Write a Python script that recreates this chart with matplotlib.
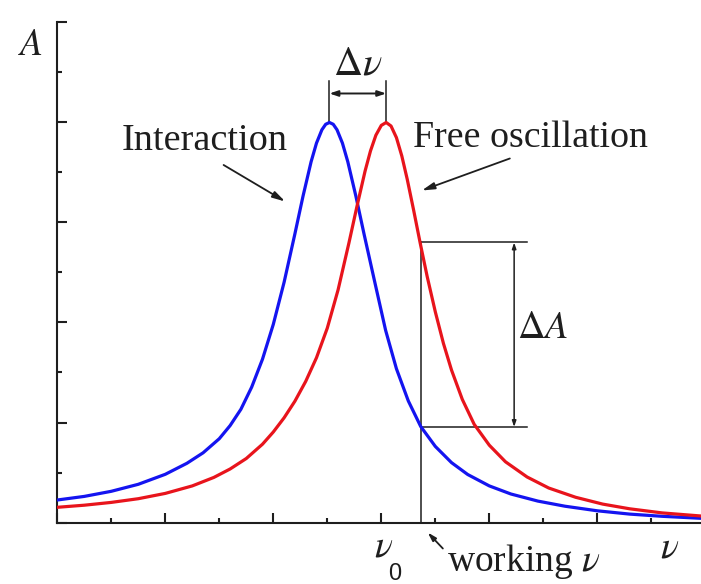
import matplotlib
matplotlib.use("Agg")
import matplotlib.pyplot as plt
from matplotlib.ticker import MultipleLocator

plt.rcParams['font.family'] = ['Liberation Serif', 'DejaVu Serif']
plt.rcParams['mathtext.fontset'] = 'stix'

# Resonance curves: frequency (arbitrary units) vs amplitude
nu_interaction = [0.00, 0.50, 1.00, 1.50, 2.00, 2.40, 2.70, 3.00, 3.20, 3.40,
                  3.60, 3.80, 4.00, 4.20, 4.40, 4.55, 4.70, 4.80, 4.90, 4.97,
                  5.04, 5.11, 5.18, 5.28, 5.38, 5.53, 5.68, 5.88, 6.08, 6.28,
                  6.50, 6.73, 7.00, 7.30, 7.60, 8.00, 8.40, 8.90, 9.40, 10.00,
                  10.60, 11.20, 11.92]
amp_interaction = [0.225, 0.261, 0.312, 0.382, 0.482, 0.592, 0.697, 0.838, 0.969, 1.132,
                   1.354, 1.633, 1.981, 2.402, 2.886, 3.262, 3.607, 3.794, 3.927, 3.982,
                   4.000, 3.982, 3.927, 3.794, 3.607, 3.262, 2.886, 2.402, 1.922, 1.538,
                   1.216, 0.960, 0.761, 0.599, 0.480, 0.366, 0.285, 0.214, 0.163, 0.117,
                   0.084, 0.062, 0.042]

nu_free = [0.00, 0.50, 1.00, 1.50, 2.00, 2.50, 2.90, 3.20, 3.50, 3.80,
           4.00, 4.20, 4.40, 4.60, 4.80, 5.00, 5.20, 5.40, 5.55, 5.70,
           5.80, 5.90, 6.00, 6.09, 6.18, 6.28, 6.38, 6.48, 6.60, 6.72,
           6.85, 7.00, 7.15, 7.30, 7.50, 7.72, 8.00, 8.30, 8.70, 9.10,
           9.60, 10.10, 10.60, 11.20, 11.92]
amp_free = [0.152, 0.173, 0.201, 0.238, 0.291, 0.366, 0.451, 0.535, 0.640, 0.783,
            0.905, 1.047, 1.213, 1.411, 1.648, 1.944, 2.327, 2.794, 3.163, 3.515,
            3.716, 3.873, 3.971, 4.000, 3.965, 3.849, 3.665, 3.433, 3.120, 2.795,
            2.459, 2.107, 1.792, 1.525, 1.231, 0.982, 0.773, 0.607, 0.455, 0.345,
            0.252, 0.184, 0.137, 0.096, 0.065]

peak_interaction = 5.04
peak_free = 6.09
peak_amp = 4.0
nu_work = 6.73
amp_work_free = 2.80
amp_work_inter = 0.955

BLUE = '#1414f0'
RED = '#e8141c'
INK = '#1e1e1e'

fig = plt.figure(figsize=(7.01, 5.84), dpi=100)
ax = fig.add_axes([0.0817, 0.1053, 0.9183, 0.8562])
ax.set_xlim(0, 11.92)
ax.set_ylim(0, 5.0)

ax.plot(nu_interaction, amp_interaction, color=BLUE, lw=2.3,
        solid_joinstyle='round', solid_capstyle='round', zorder=3)
ax.plot(nu_free, amp_free, color=RED, lw=2.3,
        solid_joinstyle='round', solid_capstyle='round', zorder=3)

# Axes frame: only left and bottom spines, inward ticks without labels
for side in ('top', 'right'):
    ax.spines[side].set_visible(False)
for side in ('left', 'bottom'):
    ax.spines[side].set_linewidth(1.5)
    ax.spines[side].set_color(INK)
ax.xaxis.set_major_locator(MultipleLocator(2))
ax.xaxis.set_minor_locator(MultipleLocator(1))
ax.yaxis.set_major_locator(MultipleLocator(1))
ax.yaxis.set_minor_locator(MultipleLocator(0.5))
ax.tick_params(which='both', direction='in', labelbottom=False, labelleft=False,
               color=INK, width=1.5)
ax.tick_params(which='major', length=7)
ax.tick_params(which='minor', length=3.6)

# Working-frequency line and amplitude difference
ax.plot([nu_work, nu_work], [0, amp_work_free], color=INK, lw=1.1, zorder=2)
ax.plot([nu_work, 8.70], [amp_work_free, amp_work_free], color=INK, lw=1.1, zorder=2)
ax.plot([nu_work, 8.70], [amp_work_inter, amp_work_inter], color=INK, lw=1.1, zorder=2)
ax.annotate('', xy=(8.46, amp_work_inter), xytext=(8.46, amp_work_free),
            arrowprops=dict(arrowstyle='<|-|>,head_length=0.35,head_width=0.12',
                            color=INK, lw=1.1, shrinkA=0, shrinkB=0))
ax.text(8.51, 1.935, r'$\Delta A$', fontsize=27.5, ha='left', va='center', color=INK)

# Peak shift
for p in (peak_interaction, peak_free):
    ax.plot([p, p], [peak_amp, 4.41], color=INK, lw=1.1, zorder=2)
ax.annotate('', xy=(peak_interaction, 4.29), xytext=(peak_free, 4.29),
            arrowprops=dict(arrowstyle='<|-|>,head_length=0.5,head_width=0.17',
                            color=INK, lw=1.4, shrinkA=0, shrinkB=0))
ax.text(5.57, 4.475, r'$\Delta\nu$', fontsize=29, ha='center', va='baseline', color=INK)

# Curve labels
ax.text(1.19, 3.72, 'Interaction', fontsize=27.5, ha='left', va='baseline', color=INK)
ax.annotate('', xy=(4.22, 3.21), xytext=(3.08, 3.575),
            arrowprops=dict(arrowstyle='-|>,head_length=0.75,head_width=0.2',
                            color=INK, lw=1.3, shrinkA=0, shrinkB=0))
ax.text(6.59, 3.755, 'Free oscillation', fontsize=27.3, ha='left', va='baseline', color=INK)
ax.annotate('', xy=(6.75, 3.32), xytext=(8.38, 3.64),
            arrowprops=dict(arrowstyle='-|>,head_length=0.75,head_width=0.2',
                            color=INK, lw=1.3, shrinkA=0, shrinkB=0))

# Axis labels
ax.text(-0.49, 4.675, r'$A$', fontsize=27, ha='center', va='baseline', color=INK,
        clip_on=False)
ax.text(11.33, -0.345, r'$\nu$', fontsize=27, ha='center', va='baseline', color=INK,
        clip_on=False)
ax.text(6.05, -0.335, r'$\nu$', fontsize=27, ha='center', va='baseline', color=INK,
        clip_on=False)
ax.text(6.24, -0.575, '0', fontsize=17, ha='center', va='baseline', color=INK,
        family=['Liberation Sans', 'DejaVu Sans'], clip_on=False)
ax.text(7.22, -0.485, r'working $\nu$', fontsize=27, ha='left', va='baseline',
        color=INK, clip_on=False)
ax.annotate('', xy=(6.86, -0.10), xytext=(7.14, -0.26),
            arrowprops=dict(arrowstyle='-|>,head_length=0.5,head_width=0.15',
                            color=INK, lw=1.3, shrinkA=0, shrinkB=0),
            annotation_clip=False)

fig.savefig('out.png', dpi=100, facecolor='white')
